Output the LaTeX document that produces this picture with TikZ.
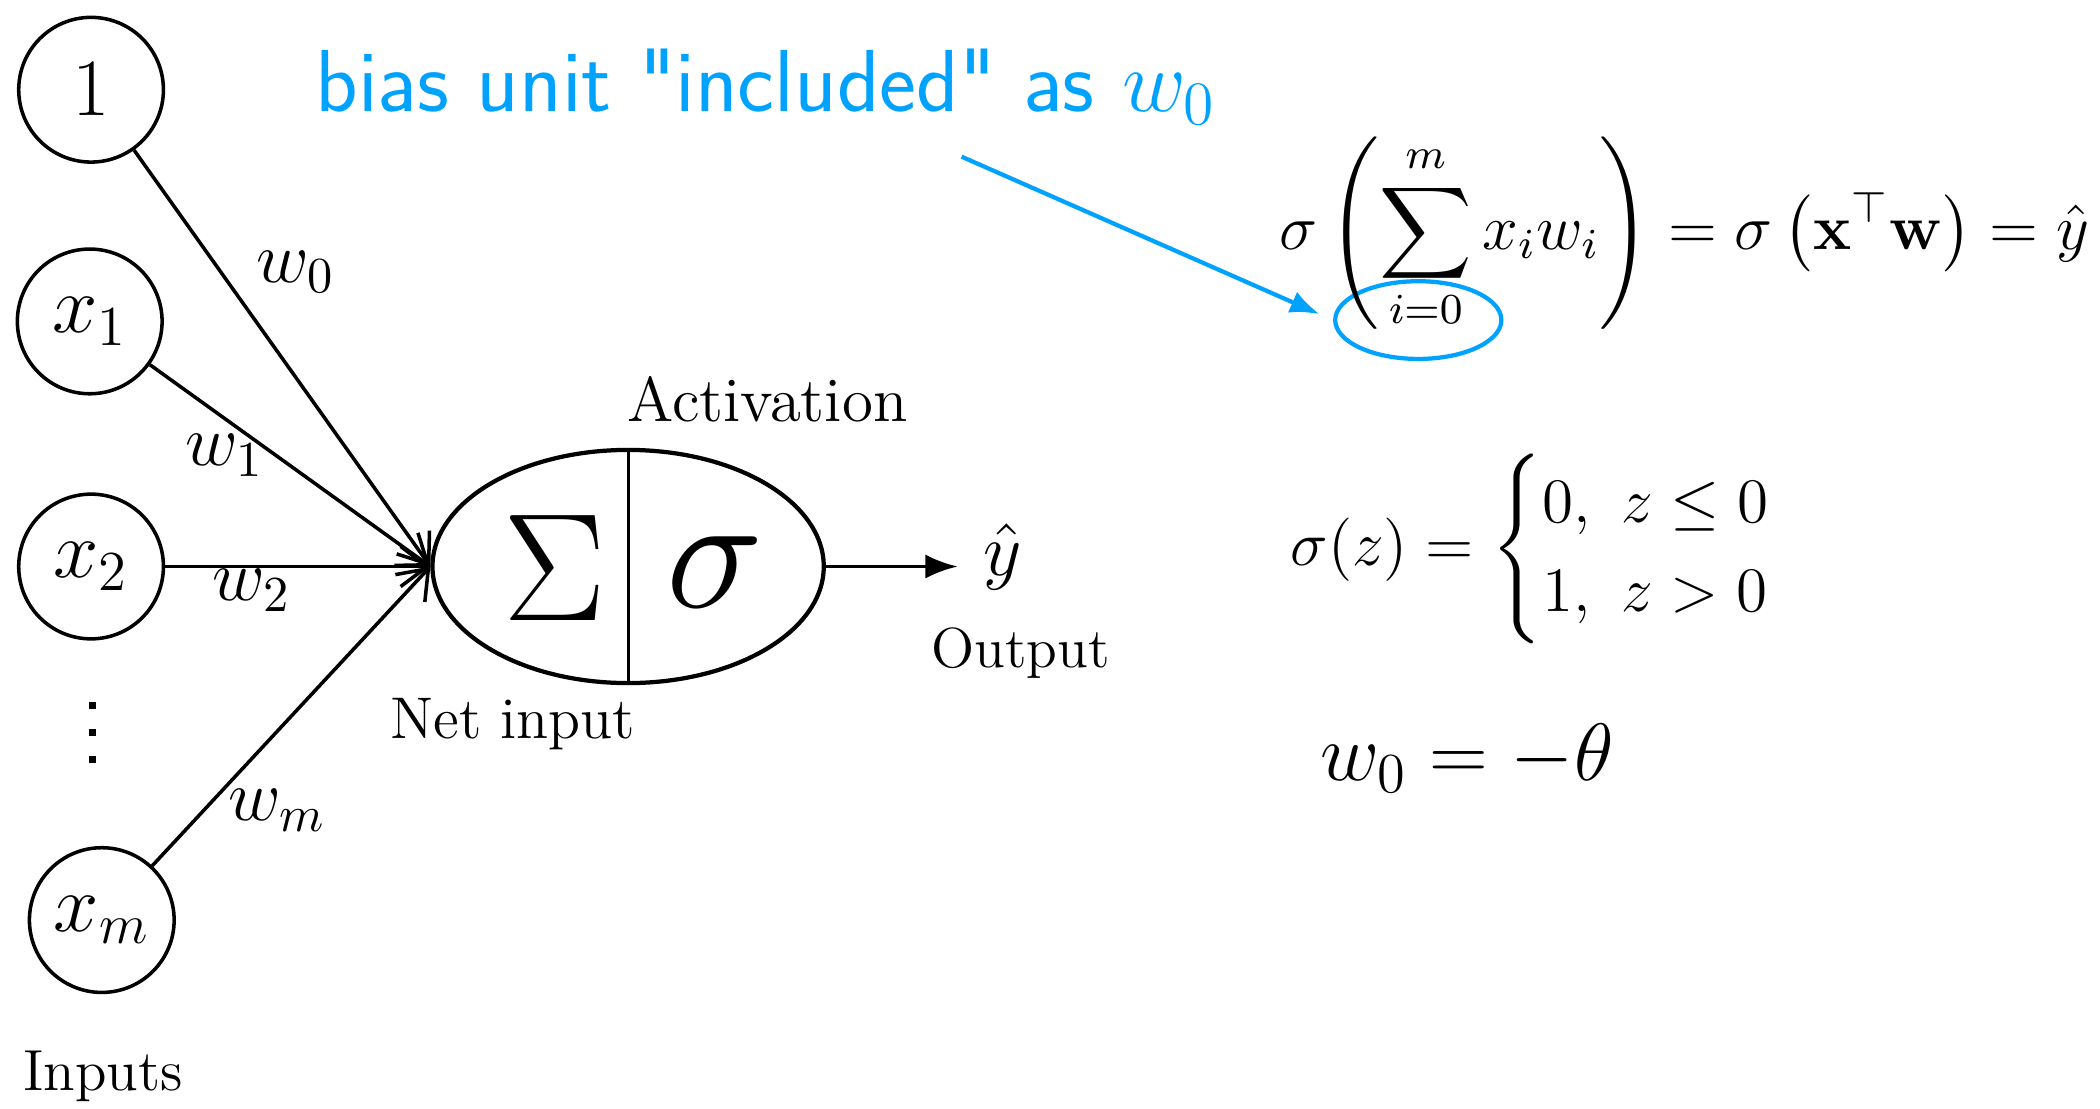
\RequirePackage{fix-cm}
\documentclass[tikz,border=0pt]{standalone}
\usepackage{amsmath,amssymb}
\usetikzlibrary{arrows.meta,shapes.geometric}
\definecolor{biasblue}{RGB}{0,162,255}
\newcommand{\mydot}{\hbox{\rule{1.5pt}{1.5pt}}}
\begin{document}
\begin{tikzpicture}[x=0.01cm,y=-0.01cm,
  unit/.style={draw,circle,line width=0.75pt,minimum size=1.08cm,inner sep=0pt,font=\fontsize{17.28}{20}\selectfont},
  conn/.style={line width=0.75pt,-{Straight Barb[length=0.2cm,width=0.3cm,line width=0.75pt]}},
  lbl/.style={font=\fontsize{12.3}{14}\selectfont},
  wl/.style={font=\fontsize{14.4}{17}\selectfont},
  eqn/.style={anchor=base west,inner sep=0pt}]
\useasboundingbox (0,0) rectangle (1568,828);
% input units
\node[unit] (one) at (68,67) {$1$};
\node[unit] (x1) at (67,240) {$x_1$};
\node[unit] (x2) at (68,423) {$x_2$};
\node[inner sep=0pt] (dots) at (69,547) {\vbox{\offinterlineskip\mydot\vskip4.2pt\mydot\vskip4.2pt\mydot}};
\node[unit] (xm) at (76,687) {$x_m$};
\node[lbl] (inputs) at (77,804) {Inputs};
% neuron
\node[draw,ellipse,line width=0.9pt,minimum width=2.92cm,minimum height=1.74cm,inner sep=0pt] (neuron) at (469,423) {};
\draw[line width=0.6pt] (neuron.north) -- (neuron.south);
\node[inner sep=0pt] (sum) at (414,424) {\fontsize{24.88}{30}\selectfont\scalebox{1.31}{$\Sigma$}};
\node[inner sep=0pt] (sig) at (534,427) {\fontsize{24.88}{30}\selectfont\scalebox{1.4}{$\sigma$}};
\node[font=\fontsize{13.4}{16}\selectfont] (act) at (573,298) {Activation};
\node[font=\fontsize{12.5}{15}\selectfont] (net) at (383,541) {Net input};
% connectors
\draw[conn] (one) -- (neuron.west);
\draw[conn] (x1) -- (neuron.west);
\draw[conn] (x2) -- (neuron.west);
\draw[conn] (xm) -- (neuron.west);
\node[wl] (lw0) at (221,203) {\scalebox{1.07}{$w_0$}};
\node[wl] (lw1) at (168,340) {\scalebox{1.07}{$w_1$}};
\node[wl] (lw2) at (188,441) {\scalebox{1.07}{$w_2$}};
\node[wl] (lwm) at (207,605) {\scalebox{1.07}{$w_m$}};
% output
\node[font=\fontsize{14.4}{17}\selectfont] (yhat) at (749,416) {\scalebox{1.1}{$\hat{y}$}};
\coordinate (outtip) at (715,423);
\draw[line width=0.75pt,-{Latex[length=0.24cm,width=0.18cm]}] (neuron.east) -- (outtip);
\node[font=\fontsize{12}{14}\selectfont] (out) at (762,488) {Output};
% blue annotation
\node[text=biasblue,font=\sffamily\fontsize{18.7}{22}\selectfont,anchor=base west,inner sep=0pt] (bias) at (235,83) {bias unit \textquotedbl included\textquotedbl{} as $w_0$};
\node[draw=biasblue,ellipse,line width=0.9pt,minimum width=1.24cm,minimum height=0.58cm,inner sep=0pt] (circ) at (1059,239) {};
\coordinate (bstart) at (718,117);
\draw[biasblue,line width=0.9pt,-{Latex[length=0.22cm,width=0.17cm]},shorten >=0.11cm] (bstart) -- (circ.west);
% equations
\node[eqn,font=\fontsize{12}{14}\selectfont] (eq1) at (955,186) {\scalebox{1.135}{$\displaystyle \sigma\left(\sum_{i=0}^{m} x_i w_i\right) = \sigma\left(\mathbf{x}^{\top}\mathbf{w}\right) = \hat{y}$}};
\node[eqn,font=\fontsize{12}{14}\selectfont] (eq2) at (963,422) {\scalebox{1.12}{$\sigma(z) = \begin{cases} 0,\ z \leq 0\\ 1,\ z > 0\end{cases}$}};
\node[eqn,font=\fontsize{17.28}{20}\selectfont] (eq3) at (985,583) {$w_0 = -\theta$};
\end{tikzpicture}
\end{document}
